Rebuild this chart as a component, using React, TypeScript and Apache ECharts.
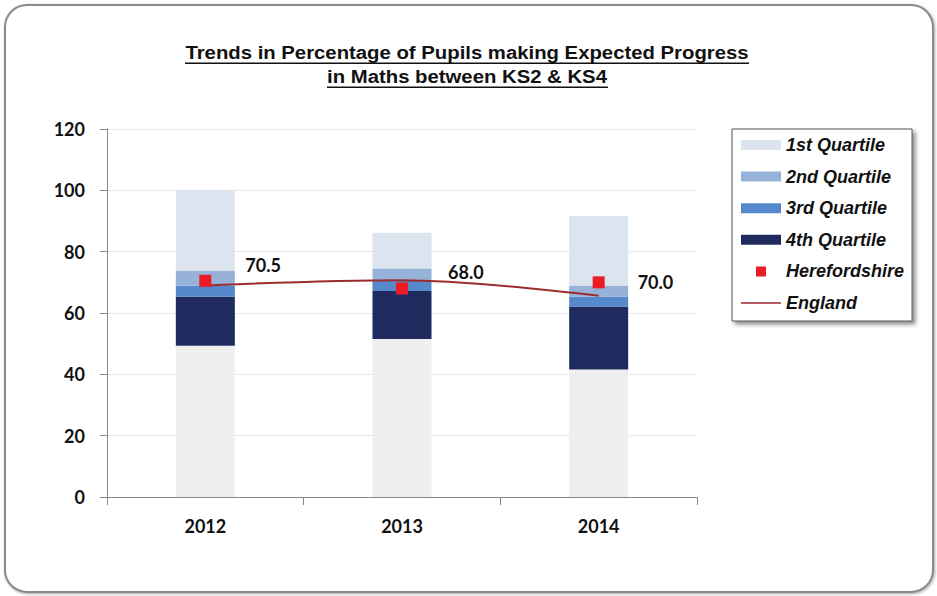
import React, { useEffect, useRef } from "react";
import * as echarts from "echarts";

const years = ["2012", "2013", "2014"];
const baseValues = [49.3, 51.5, 41.6];
const q4Values = [16.0, 15.7, 20.5];
const q3Values = [3.6, 3.5, 3.2];
const q2Values = [4.8, 3.8, 3.7];
const q1Values = [26.3, 11.7, 22.6];
const herefordshire = [70.5, 68.0, 70.0];
const england = [69.0, 70.7, 65.6];
const yTicks = { min: 0, max: 120, interval: 20 };

const numFont = "Lato, 'Open Sans', sans-serif";
const legendFont = "'Liberation Sans', Arial, sans-serif";
const titleFont = "bold 19px 'Liberation Sans', Arial, sans-serif";
const labelOffsets = [
  [29, -16],
  [35, -16],
  [28, 0],
];

export default function App() {
  const ref = useRef<HTMLDivElement>(null);
  useEffect(() => {
    document.body.style.margin = "0";
    const chart = echarts.init(ref.current!, null, { renderer: "svg" });
    const barCommon = {
      type: "bar",
      stack: "q",
      barWidth: 59,
    };
    const option: any = {
      animation: false,
      backgroundColor: "#ffffff",
      graphic: [
        {
          type: "rect",
          z: -10,
          shape: { x: 5, y: 5, width: 928, height: 587, r: 22 },
          style: {
            fill: "#ffffff",
            stroke: "#8a8a8a",
            lineWidth: 2,
            shadowBlur: 3,
            shadowOffsetX: 1,
            shadowOffsetY: 1,
            shadowColor: "rgba(0,0,0,0.35)",
          },
        },
        {
          type: "text",
          x: 467,
          y: 52,
          scaleX: 1.07,
          style: {
            text: "Trends in Percentage of Pupils making Expected Progress",
            fill: "#111",
            font: titleFont,
            align: "center",
            verticalAlign: "middle",
          },
        },
        {
          type: "rect",
          shape: { x: 185, y: 62.5, width: 564, height: 1.6 },
          style: { fill: "#111" },
        },
        {
          type: "text",
          x: 467,
          y: 76,
          scaleX: 1.07,
          style: {
            text: "in Maths between KS2 & KS4",
            fill: "#111",
            font: titleFont,
            align: "center",
            verticalAlign: "middle",
          },
        },
        {
          type: "rect",
          shape: { x: 327, y: 86.5, width: 281, height: 1.6 },
          style: { fill: "#111" },
        },
      ],
      grid: { left: 107, right: 240, top: 129, bottom: 99, containLabel: false },
      legend: {
        orient: "vertical",
        left: 732,
        top: 129,
        padding: [6, 8, 8, 9],
        itemWidth: 40,
        itemHeight: 10,
        itemGap: 11.6,
        itemStyle: { borderWidth: 0 },
        backgroundColor: "#ffffff",
        borderColor: "#555",
        borderWidth: 1,
        shadowColor: "rgba(0,0,0,0.45)",
        shadowBlur: 4,
        shadowOffsetX: 3,
        shadowOffsetY: 3,
        textStyle: {
          fontFamily: legendFont,
          fontStyle: "italic",
          fontWeight: "bold",
          fontSize: 18,
          color: "#111",
          lineHeight: 20,
        },
        data: [
          { name: "1st Quartile", icon: "rect" },
          { name: "2nd Quartile", icon: "rect" },
          { name: "3rd Quartile", icon: "rect" },
          { name: "4th Quartile", icon: "rect" },
          {
            name: "Herefordshire",
            icon: "path://M0,0L0.01,0M15,0L25,0L25,10L15,10ZM40,10L39.99,10",
          },
          {
            name: "England",
            icon: "path://M0,0L0.01,0M0,4.2L40,4.2L40,5.8L0,5.8ZM40,10L39.99,10",
          },
        ],
      },
      xAxis: {
        type: "category",
        data: years,
        axisLine: { lineStyle: { color: "#888", width: 1 } },
        axisTick: { show: true, length: 8, lineStyle: { color: "#888" } },
        axisLabel: {
          margin: 20,
          fontFamily: numFont,
          fontWeight: "bold",
          fontSize: 18,
          color: "#111",
        },
      },
      yAxis: {
        type: "value",
        min: yTicks.min,
        max: yTicks.max,
        interval: yTicks.interval,
        axisLine: { show: true, lineStyle: { color: "#888", width: 1 } },
        axisTick: { show: true, length: 7, lineStyle: { color: "#888" } },
        axisLabel: {
          margin: 22,
          fontFamily: numFont,
          fontWeight: "bold",
          fontSize: 18,
          color: "#111",
        },
        splitLine: { lineStyle: { color: "#e8e8e8", width: 1 } },
      },
      series: [
        {
          ...barCommon,
          name: "base",
          data: baseValues,
          itemStyle: { color: "#efefef" },
        },
        {
          ...barCommon,
          name: "4th Quartile",
          data: q4Values,
          itemStyle: { color: "#1f2b5f" },
        },
        {
          ...barCommon,
          name: "3rd Quartile",
          data: q3Values,
          itemStyle: { color: "#5589cb" },
        },
        {
          ...barCommon,
          name: "2nd Quartile",
          data: q2Values,
          itemStyle: { color: "#96b2d8" },
        },
        {
          ...barCommon,
          name: "1st Quartile",
          data: q1Values,
          itemStyle: { color: "#dbe4ef" },
        },
        {
          type: "line",
          name: "England",
          data: england,
          smooth: 0.35,
          showSymbol: false,
          symbol: "none",
          z: 5,
          lineStyle: { color: "#9c2b2e", width: 2 },
          itemStyle: { color: "#9c2b2e" },
        },
        {
          type: "scatter",
          name: "Herefordshire",
          symbol: "rect",
          symbolSize: 12,
          z: 6,
          itemStyle: { color: "#ec1c24", opacity: 1 },
          data: herefordshire.map((v, i) => ({
            value: v,
            label: { offset: labelOffsets[i] },
          })),
          label: {
            show: true,
            position: "right",
            distance: 5,
            formatter: (p: any) => Number(p.value).toFixed(1),
            fontFamily: numFont,
            fontWeight: "bold",
            fontSize: 18,
            color: "#111",
          },
        },
      ],
    };
    chart.setOption(option);
    return () => chart.dispose();
  }, []);
  return (
    <div
      ref={ref}
      style={{ position: "absolute", left: 0, top: 0, width: 937, height: 596 }}
    />
  );
}
